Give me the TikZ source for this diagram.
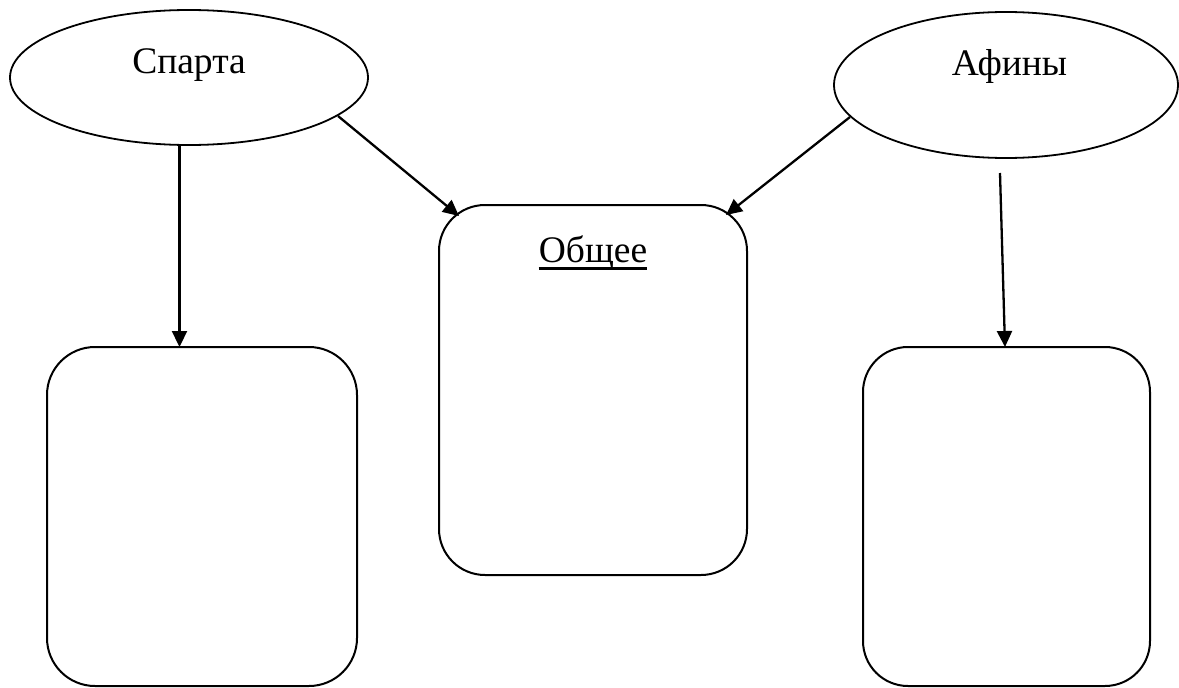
\documentclass[tikz,border=0pt]{standalone}
\usepackage{fontspec}
\setmainfont{Liberation Serif}
\usetikzlibrary{shapes.geometric,arrows.meta}
\begin{document}
\begin{tikzpicture}[x=1pt,y=-1pt,
  oval/.style={draw, ellipse, line width=1.8pt, inner sep=0pt},
  rbox/.style={draw, rectangle, line width=2pt, inner sep=0pt},
  lbl/.style={anchor=base, inner sep=0pt, font=\fontsize{37.5}{45}\selectfont},
  arr/.style={line width=2.3pt, -{Triangle[length=16pt,width=15pt]}}]
\useasboundingbox (0,0) rectangle (1179,688);
% ellipses
\node[oval, minimum width=358pt, minimum height=135pt] (sparta) at (189,77.5) {};
\node[oval, minimum width=344pt, minimum height=146pt] (afiny) at (1006,85) {};
\node[lbl] (spartaT) at (189,73) {Спарта};
\node[lbl] (afinyT) at (1009.5,75) {Афины};
% boxes
\node[rbox, rounded corners=46pt, minimum width=308pt, minimum height=370pt] (common) at (593,390) {};
\node[rbox, rounded corners=48pt, minimum width=310pt, minimum height=339pt] (lbox) at (202,516.5) {};
\node[rbox, rounded corners=45pt, minimum width=287pt, minimum height=339pt] (rbox) at (1006.5,516.5) {};
\node[lbl] (commonT) at (593,262) {Общее};
\draw[line width=2.2pt] ([yshift=-6.5pt]commonT.base west) -- ([yshift=-6.5pt]commonT.base east);
% arrow end points
\coordinate (s1) at (179.5,145);
\coordinate (e1) at (179.5,347);
\coordinate (s2) at (338,116);
\coordinate (e2) at (459,216);
\coordinate (s3) at (850,117);
\coordinate (e3) at (726,215);
\coordinate (s4) at (1000,173);
\coordinate (e4) at (1005,347);
\draw[arr] (s1) -- (e1);
\draw[arr] (s2) -- (e2);
\draw[arr] (s3) -- (e3);
\draw[arr] (s4) -- (e4);
\end{tikzpicture}
\end{document}
